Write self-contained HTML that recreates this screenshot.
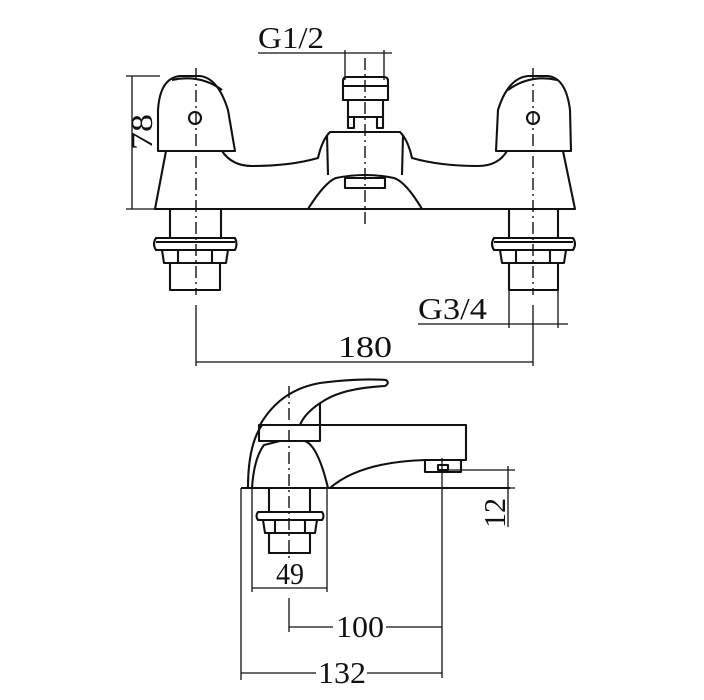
<!DOCTYPE html>
<html><head><style>body{margin:0;background:#fff}svg{display:block}text{font-family:"Liberation Serif",serif;fill:#111}</style></head>
<body>
<svg width="704" height="700" viewBox="0 0 704 700" xmlns="http://www.w3.org/2000/svg">
<g fill="none" stroke="#111" stroke-width="2.1" stroke-linejoin="round">
<path d="M158,151 L158,110 Q160,78 180,76 L200,76 Q218,78 228,110 L235,151 Z"/>
<path d="M172,80 Q200,74 222,90"/>
<circle cx="195" cy="118" r="6"/>
<path d="M496,151 L498,110 Q508,78 528,76 L548,76 Q566,78 570,110 L571,151 Z"/>
<path d="M508,90 Q530,74 557,80"/>
<circle cx="533" cy="118" r="6"/>
<path d="M166,151 L155,209 L575,209 L563,151"/>
<path d="M222,151 Q232,166 252,166 Q290,166 318,158 Q322,140 330,132 L400,132 Q408,140 412,158 Q440,166 478,166 Q498,166 507,151"/>
<path d="M327,135 L328,175"/><path d="M403,135 L402,175"/>
<path d="M308,209 Q325,182 336,178 Q365,172 394,178 Q406,182 422,209"/>
<rect x="345" y="178" width="40" height="10"/>
<path d="M343,100 L343,81 Q343,77 347,77 L384,77 Q388,77 388,81 L388,100 Z"/>
<line x1="343" y1="86" x2="388" y2="86"/>
<rect x="348" y="100" width="35" height="17"/>
<rect x="348" y="117" width="6" height="11"/><rect x="377" y="117" width="6" height="11"/>
<path d="M170,209 L170,238 M221,209 L221,238"/>
<path d="M156,238 L235,238 Q238,244 235,250 L156,250 Q152,244 156,238 Z"/><line x1="156" y1="242" x2="235" y2="242"/>
<path d="M162,250 L228,250 L226,263 L164,263 Z"/><line x1="178" y1="250" x2="178" y2="263"/><line x1="212" y1="250" x2="212" y2="263"/>
<path d="M170,263 L170,290 L220,290 L220,263"/>
<path d="M509,209 L509,238 M558,209 L558,238"/>
<path d="M494,238 L573,238 Q577,244 573,250 L494,250 Q490,244 494,238 Z"/><line x1="494" y1="242" x2="573" y2="242"/>
<path d="M500,250 L566,250 L564,263 L502,263 Z"/><line x1="516" y1="250" x2="516" y2="263"/><line x1="550" y1="250" x2="550" y2="263"/>
<path d="M509,263 L509,290 L558,290 L558,263"/>
<path d="M241,488 L510,488"/>
<path d="M252,488 Q254,458 264,445 L280,441 L305,441 Q318,446 328,488"/>
<path d="M259,441 L259,425 L320,425 L320,441 Z"/>
<path d="M248,488 Q248,445 262,425"/>
<path d="M260,425 Q280,390 320,383 Q360,378 386,380 Q390,383 385,386 Q345,388 325,400 Q305,412 300,425"/>
<path d="M320,403 L320,425"/>
<path d="M320,425 L466,425 L466,460 L425,460 Q360,462 330,488"/>
<path d="M425,461 L425,472 L461,472 L461,460"/>
<rect x="438" y="465" width="10" height="5"/>
<path d="M269,488 L269,512 M310,488 L310,512"/>
<path d="M258,512 L322,512 Q325,516 322,520 L258,520 Q255,516 258,512 Z"/>
<path d="M263,520 L317,520 L315,533 L265,533 Z"/><line x1="275" y1="520" x2="275" y2="533"/><line x1="305" y1="520" x2="305" y2="533"/>
<path d="M269,533 L269,553 L310,553 L310,533"/>
</g>
<g stroke="#111" stroke-width="1.4" stroke-dasharray="12,4,2,4" fill="none">
<line x1="365" y1="58" x2="365" y2="224"/>
<line x1="196" y1="68" x2="196" y2="295"/>
<line x1="533" y1="68" x2="533" y2="295"/>
<line x1="289" y1="386" x2="289" y2="560"/>
</g>
<g stroke="#111" stroke-width="1.3" fill="none">
<line x1="258" y1="53" x2="392" y2="53"/>
<line x1="345" y1="50" x2="345" y2="80"/><line x1="384" y1="50" x2="384" y2="80"/>
<line x1="132" y1="76" x2="132" y2="209"/>
<line x1="126" y1="76" x2="160" y2="76"/><line x1="126" y1="209" x2="160" y2="209"/>
<line x1="196" y1="305" x2="196" y2="366"/><line x1="533" y1="305" x2="533" y2="366"/>
<line x1="196" y1="362" x2="533" y2="362"/>
<line x1="418" y1="324" x2="568" y2="324"/>
<line x1="509" y1="290" x2="509" y2="328"/><line x1="558" y1="290" x2="558" y2="328"/>
<line x1="252" y1="488" x2="252" y2="592"/><line x1="327" y1="488" x2="327" y2="592"/>
<line x1="252" y1="588" x2="327" y2="588"/>
<line x1="289" y1="598" x2="289" y2="632"/>
<line x1="289" y1="627" x2="333" y2="627"/><line x1="386" y1="627" x2="442" y2="627"/>
<line x1="442" y1="458" x2="442" y2="678"/>
<line x1="241" y1="488" x2="241" y2="680"/>
<line x1="241" y1="673" x2="316" y2="673"/><line x1="367" y1="673" x2="442" y2="673"/>
<line x1="508" y1="466" x2="508" y2="527"/>
<line x1="440" y1="470" x2="515" y2="470"/><line x1="440" y1="488" x2="515" y2="488"/>
</g>
<g font-size="31">
<text x="258" y="48" textLength="66" lengthAdjust="spacingAndGlyphs">G1/2</text>
<text x="338" y="357" textLength="54" lengthAdjust="spacingAndGlyphs">180</text>
<text x="418" y="319" textLength="69" lengthAdjust="spacingAndGlyphs">G3/4</text>
<text x="276" y="584" textLength="28" lengthAdjust="spacingAndGlyphs">49</text>
<text x="336" y="637" textLength="48" lengthAdjust="spacingAndGlyphs">100</text>
<text x="318" y="683" textLength="48" lengthAdjust="spacingAndGlyphs">132</text>
<text transform="translate(152,150) rotate(-90)" textLength="36" lengthAdjust="spacingAndGlyphs">78</text>
<text transform="translate(505,528) rotate(-90)" textLength="30" lengthAdjust="spacingAndGlyphs">12</text>
</g>
</svg>
</body></html>
